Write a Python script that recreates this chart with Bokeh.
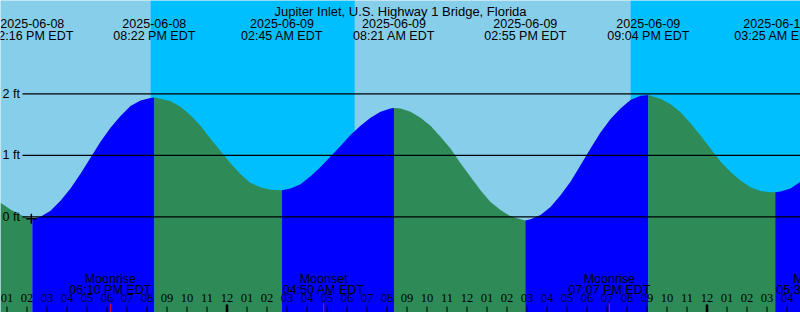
import numpy as np
import pandas as pd
from bokeh.plotting import figure
from bokeh.models import Range1d, Label, LabelSet, BoxAnnotation, ColumnDataSource
from bokeh.embed import file_html
from bokeh.resources import INLINE

# ---------------- data ----------------
STATION = "Jupiter Inlet, U.S. Highway 1 Bridge, Florida"
ORIGIN = "2025-06-09 00:00"          # time axis origin (hours)
CHART_START = "2025-06-08 12:40:30"
CHART_END = "2025-06-10 04:40:30"

# tide height (ft) read every 30 minutes starting at CHART_START
SAMPLE_STEP_MIN = 30
tide_ft = [0.23, 0.12, 0.03, -0.03, 0.00, 0.10, 0.26, 0.46, 0.70, 0.96,
           1.22, 1.45, 1.64, 1.80, 1.89, 1.93, 1.92, 1.88, 1.79, 1.65,
           1.48, 1.27, 1.07, 0.87, 0.69, 0.55, 0.48, 0.44, 0.43, 0.46,
           0.53, 0.66, 0.81, 0.98, 1.15, 1.33, 1.48, 1.61, 1.71, 1.76,
           1.76, 1.71, 1.61, 1.48, 1.30, 1.11, 0.87, 0.65, 0.43, 0.24,
           0.11, 0.01, -0.04, -0.04, 0.03, 0.16, 0.35, 0.57, 0.84, 1.11,
           1.37, 1.59, 1.76, 1.90, 1.97, 1.97, 1.92, 1.83, 1.70, 1.52,
           1.32, 1.11, 0.90, 0.73, 0.59, 0.48, 0.42, 0.40, 0.41, 0.46,
           0.57]

extreme_times = ["2025-06-08 14:16", "2025-06-08 20:22", "2025-06-09 02:45",
                 "2025-06-09 08:21", "2025-06-09 14:55", "2025-06-09 21:04",
                 "2025-06-10 03:25"]
extreme_ft = [-0.03, 1.94, 0.43, 1.77, -0.06, 1.98, 0.40]

night_start = ["2025-06-08 20:11", "2025-06-09 20:11"]
night_end = ["2025-06-09 06:23", "2025-06-10 06:24"]

moon_times = ["2025-06-08 18:10", "2025-06-09 04:50", "2025-06-09 19:07", "2025-06-10 05:31"]
moon_kinds = ["Moonrise", "Moonset", "Moonrise", "Moonset"]

now_time = "2025-06-08 14:13"
now_ft = -0.03

level_ft = [0, 1, 2]
level_labels = ["0 ft", "1 ft", "2 ft"]

# ---------------- style ----------------
DAY = "#87CEEB"
NIGHT = "#00BFFF"
RISE = "#0000FF"
FALL = "#2E8B57"
FONT = "Liberation Sans"
FS = "12.5px"
W, H = 800, 312

def hrs(s):
    return (pd.Timestamp(s) - pd.Timestamp(ORIGIN)).total_seconds() / 3600.0

t0, t1 = hrs(CHART_START), hrs(CHART_END)
px_per_h = W / (t1 - t0)
# vertical scale: 0 ft at 216.3 px from top, 61.5 px per ft
zero_px, px_per_ft = 216.3, 61.5
y0 = -(H - zero_px) / px_per_ft
y1 = zero_px / px_per_ft

p = figure(width=W, height=H, x_range=Range1d(t0, t1), y_range=Range1d(y0, y1),
           output_backend="svg", toolbar_location=None, min_border=0,
           x_axis_location=None, y_axis_location=None,
           background_fill_color=DAY, border_fill_color=DAY, outline_line_color=None)
p.grid.visible = False

for a, b in zip(night_start, night_end):
    p.add_layout(BoxAnnotation(left=hrs(a), right=hrs(b), fill_color=NIGHT, fill_alpha=1,
                               line_color=None, level="underlay"))

# tide curve samples + extremes
sample_t = [t0 + i * SAMPLE_STEP_MIN / 60.0 for i in range(len(tide_ft))]
ext_t = [hrs(s) for s in extreme_times]
pts = sorted(list(zip(sample_t, tide_ft)) + list(zip(ext_t, extreme_ft)))
bounds = [(sample_t[0], tide_ft[0])] + list(zip(ext_t, extreme_ft)) + [(sample_t[-1], tide_ft[-1])]
for (ta, ha), (tb, hb) in zip(bounds[:-1], bounds[1:]):
    seg = [(t, h) for t, h in pts if ta - 1e-9 <= t <= tb + 1e-9]
    xs = [t for t, _ in seg]
    ys = [h for _, h in seg]
    p.varea(x=xs, y1=[y0] * len(xs), y2=ys, fill_color=RISE if hb > ha else FALL)

# level lines
lx0 = t0 + 22 / px_per_h
p.segment(x0=[lx0] * 3, x1=[t1] * 3, y0=level_ft, y1=level_ft, line_color="black", line_width=1.2)
for lv, lab in zip(level_ft, level_labels):
    p.add_layout(Label(x=2, x_units="screen", y=lv, y_units="data", text=lab,
                       text_align="left", text_baseline="middle", text_font=FONT,
                       text_font_size=FS, text_color="black"))

# now marker
p.scatter(x=[hrs(now_time)], y=[now_ft], marker="cross", size=10, line_color="black", line_width=1.5)

# title & extreme labels
p.add_layout(Label(x=W / 2, x_units="screen", y=H - 11, y_units="screen", text=STATION,
                   text_align="center", text_baseline="alphabetic", text_font=FONT,
                   text_font_size="13px", text_color="black"))
for s in extreme_times:
    ts = pd.Timestamp(s)
    for txt, yb in ((ts.strftime("%Y-%m-%d"), 23.3), (ts.strftime("%I:%M %p EDT"), 35.7)):
        p.add_layout(Label(x=hrs(s), y=H - yb, y_units="screen", text=txt,
                           text_align="center", text_baseline="alphabetic", text_font=FONT,
                           text_font_size=FS, text_color="black"))

# hour ticks and labels
hours = list(range(int(np.ceil(t0)), int(np.floor(t1)) + 1))
plain = [h for h in hours if h % 24 != 0]
mids = [h for h in hours if h % 24 == 0]
p.ray(x=plain, y=[y0] * len(plain), length=6, length_units="screen", angle=np.pi / 2,
      line_color="black", line_width=1)
p.ray(x=mids, y=[y0] * len(mids), length=8, length_units="screen", angle=np.pi / 2,
      line_color="black", line_width=2.5)
moon_t = [hrs(s) for s in moon_times]
p.ray(x=moon_t, y=[y0] * len(moon_t), length=9, length_units="screen", angle=np.pi / 2,
      line_color="red", line_width=1)
hsrc = ColumnDataSource(dict(x=hours, y=[11] * len(hours),
                             t=["%02d" % ((h % 12) or 12) for h in hours]))
p.add_layout(LabelSet(x="x", y="y", y_units="screen", text="t", source=hsrc,
                      text_align="center", text_baseline="alphabetic", text_font=FONT,
                      text_font_size=FS, text_color="black"))

for s, kind in zip(moon_times, moon_kinds):
    ts = pd.Timestamp(s)
    for txt, yb in ((kind, 278.3), (ts.strftime("%I:%M %p EDT"), 289.3)):
        p.add_layout(Label(x=hrs(s), y=H - yb, y_units="screen", text=txt,
                           text_align="center", text_baseline="alphabetic", text_font=FONT,
                           text_font_size=FS, text_color="black"))

open("out.html", "w").write(file_html(p, INLINE))
